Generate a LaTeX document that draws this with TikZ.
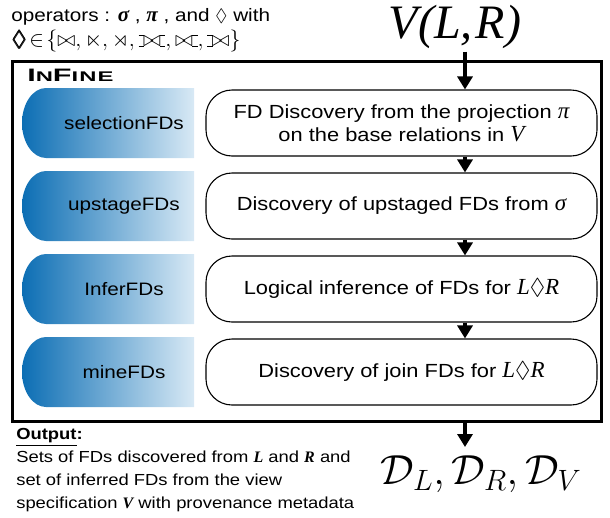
\RequirePackage{fix-cm}
\documentclass[tikz,border=0pt]{standalone}
\usepackage{amsmath,amssymb}
\usepackage{bm}
\usepackage[no-math]{fontspec}
\setmainfont{Liberation Sans}[FakeStretch=1.15]
\newfontfamily\tms{Liberation Serif}
\newfontfamily\infont{Liberation Sans}[FakeStretch=1.7,LetterSpace=8]
\usepackage{tikz}
\usetikzlibrary{arrows.meta,backgrounds}

\definecolor{capdark}{RGB}{12,110,180}
\definecolor{caplight}{RGB}{216,233,245}

\newcommand{\tmi}[1]{{\tms\itshape\fontsize{23}{23}\selectfont #1}}
\newcommand{\tmb}[1]{{\tms\bfseries\itshape #1}}
\newcommand{\ojbar}{\setbox0=\hbox{$\bowtie$}\rule[-.02ex]{.25em}{.5pt}\llap{\rule[\ht0]{.25em}{.5pt}}}
\newcommand{\leftoj}{\mathbin{\ojbar\mkern-5.8mu\bowtie}}
\newcommand{\rightoj}{\mathbin{\bowtie\mkern-5.8mu\ojbar}}
\newcommand{\fulloj}{\mathbin{\ojbar\mkern-5.8mu\bowtie\mkern-5.8mu\ojbar}}

\begin{document}
\begin{tikzpicture}[->,>={Triangle[width=15pt,length=13pt]},x=1pt,y=1pt,
                    node distance=83pt,semithick]
\tikzstyle{task}=[draw,line width=1.1pt,rounded corners=26pt,minimum width=391pt,minimum height=66pt,align=center,font=\fontsize{19}{23}\selectfont]
\tikzstyle{fdlabel}=[inner sep=0pt,font=\fontsize{18}{22}\selectfont]
\tikzset{font=\fontsize{16}{23}\selectfont}

        \useasboundingbox (0,0) rectangle (610,-517);

        \node[anchor=base west,inner sep=0pt,font=\fontsize{18}{22}\selectfont]   (ops1) at (11,-21) {operators : {\fontsize{21}{21}\selectfont\tmb{σ}} , {\fontsize{21}{21}\selectfont\tmb{π}} , and $\Diamond$ with};
        \node[anchor=base west,inner sep=0pt,font=\fontsize{22}{22}\selectfont]   (ops2) at (11,-46) {$\bm{\Diamond}\!\in\!\{\bowtie,\ltimes,\rtimes,\fulloj,\rightoj,\leftoj\}$};
        \node[anchor=base,inner sep=3pt,font=\fontsize{48}{48}\selectfont]     (VLR)  at (455,-38) {{\tms\itshape V(L,\kern3pt R)}};

        \node[draw,line width=3pt,minimum width=589pt,minimum height=360pt,inner sep=0pt]   (frame) at (306.5,-241) {};
        \node[anchor=west,inner sep=0pt,font=\fontsize{18}{18}\selectfont\infont\bfseries]   (infine) at (27,-75) {I{\fontsize{14}{14}\selectfont N}F{\fontsize{14}{14}\selectfont INE}};

        \node[fdlabel]              (s1)                   at (124,-123) {selectionFDs};
        \node[fdlabel]              (s2)   [below of=s1]   {upstageFDs};
        \node[fdlabel]              (s3)   [below of=s2]   {InferFDs};
        \node[fdlabel]              (s4)   [below of=s3]   {mineFDs};

        \node[task]                 (b1)                   at (401.5,-123) {FD Discovery from the projection \tmi{π}\\on the base relations in \tmi{V}};
        \node[task]                 (b2)   [below of=b1]   {Discovery of upstaged FDs from \tmi{σ}};
        \node[task]                 (b3)   [below of=b2]   {Logical inference of FDs for \tmi{L}{\fontsize{23}{23}\selectfont$\Diamond$}\tmi{R}};
        \node[task]                 (b4)   [below of=b3]   {Discovery of join FDs for \tmi{L}{\fontsize{23}{23}\selectfont$\Diamond$}\tmi{R}};

        \node[anchor=north west,align=left,inner sep=0pt]   (outtxt) at (16,-428) {\textbf{\underline{Output}:}\\Sets of FDs discovered from \tmb{L} and \tmb{R} and\\set of inferred FDs from the view\\specification \tmb{V} with provenance metadata};
        \node[anchor=north,inner sep=8pt,font=\fontsize{42}{42}\selectfont]   (dsets) at (481,-447) {$\mathcal{D}_L,\mathcal{D}_R,\mathcal{D}_V$};

        \coordinate (ax) at (465,0);

        \begin{scope}[on background layer]
        \foreach \n in {s1,s2,s3,s4}
          \shade[left color=capdark,right color=caplight]
            ([xshift=70pt,yshift=35pt]\n.center) -- ([xshift=-78pt,yshift=35pt]\n.center)
            arc[start angle=90,end angle=270,x radius=24pt,y radius=35pt]
            -- ([xshift=70pt,yshift=-35pt]\n.center) -- cycle;
        \end{scope}

        \path[->,line width=4pt]
        (VLR.south -| ax)     edge      (b1.north -| ax)
        (b1.south -| ax)      edge      (b2.north -| ax)
        (b2.south -| ax)      edge      (b3.north -| ax)
        (b3.south -| ax)      edge      (b4.north -| ax)
        (frame.south -| ax)   edge      (dsets.north -| ax)
        ; %end path

\end{tikzpicture}
\end{document}
